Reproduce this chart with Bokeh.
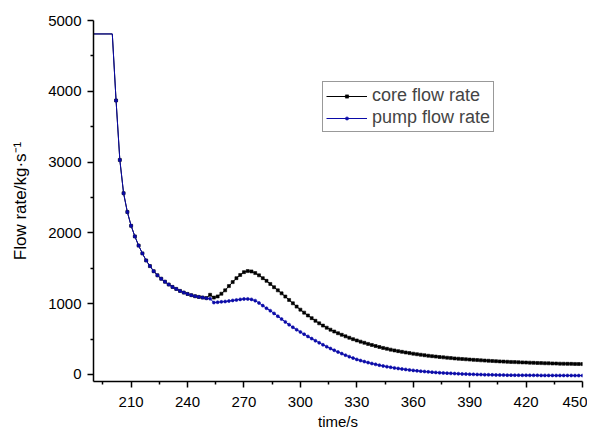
from bokeh.plotting import figure
from bokeh.models import Range1d, FixedTicker, Legend, LegendItem, ColumnDataSource
from bokeh.embed import file_html
from bokeh.resources import INLINE

# ---- data ----
time_s = [190, 200] + list(range(202, 451, 2))

core_flow = [
    4810, 4810,
    3870, 3030, 2560, 2295, 2100, 1950, 1820, 1710, 1610, 1530,
    1458, 1400, 1352, 1310, 1270, 1236, 1208, 1180, 1156, 1137,
    1120, 1105, 1095, 1086, 1078, 1125, 1085, 1102, 1140, 1188,
    1248, 1304, 1360, 1405, 1445, 1460, 1455, 1432, 1400, 1360,
    1322, 1278, 1232, 1188, 1145, 1100, 1052, 1005, 958, 915,
    873, 833, 795, 758, 722, 690, 660, 632, 606, 582,
    560, 538, 518, 498, 480, 463, 447, 431, 416, 401,
    387, 374, 362, 350, 339, 329, 319, 310, 301, 293,
    285, 278, 271, 264, 258, 252, 246, 241, 236, 231,
    226, 222, 218, 214, 210, 206, 203, 199, 196, 193,
    190, 187, 184, 181, 179, 176, 174, 172, 170, 168,
    166, 164, 162, 160, 158, 157, 155, 154, 152, 151,
    150, 149, 148, 147, 146,
]

pump_flow = [
    4810, 4810,
    3870, 3030, 2560, 2295, 2100, 1950, 1820, 1710, 1610, 1530,
    1458, 1400, 1352, 1310, 1270, 1236, 1208, 1180, 1156, 1137,
    1120, 1105, 1095, 1086, 1076, 1070, 1015, 1020, 1025, 1030,
    1037, 1045, 1052, 1060, 1066, 1067, 1060, 1042, 1010, 972,
    935, 900, 862, 822, 782, 742, 703, 666, 632, 600,
    568, 537, 506, 476, 447, 419, 392, 366, 341, 317,
    294, 272, 251, 231, 212, 196, 181, 167, 154, 142,
    131, 120, 110, 101, 92, 84, 77, 70, 63, 57,
    51, 46, 41, 36, 32, 28, 24, 21, 18, 15,
    12, 10, 7, 5, 3, 1, -1, -2, -4, -5,
    -6, -7, -8, -9, -10, -10, -11, -11, -12, -12,
    -13, -13, -13, -14, -14, -14, -14, -15, -15, -15,
    -15, -15, -16, -16, -16,
]

x_ticks = [210, 240, 270, 300, 330, 360, 390, 420, 450]
y_ticks = [0, 1000, 2000, 3000, 4000, 5000]

series_names = ["core flow rate", "pump flow rate"]
series_colors = ["#000000", "#0a0aa8"]

FONT = "Liberation Sans"

p = figure(width=587, height=432, output_backend="svg", toolbar_location=None,
           x_range=Range1d(190, 450), y_range=Range1d(-100, 5000),
           min_border_left=93, min_border_right=5, min_border_top=20,
           min_border_bottom=49)
p.outline_line_color = None
p.xgrid.visible = False
p.ygrid.visible = False
p.background_fill_color = "white"
p.border_fill_color = "white"

items = []
for name, vals, col, marker in zip(series_names, [core_flow, pump_flow], series_colors,
                                   ["square", "circle"]):
    src = ColumnDataSource(dict(t=time_s, v=vals))
    msrc = ColumnDataSource(dict(t=time_s[2:], v=vals[2:]))
    ln = p.line("t", "v", source=src, line_color=col, line_width=1)
    sc = p.scatter("t", "v", source=msrc, marker=marker, size=3,
                   fill_color=col, line_color=col, line_width=0.6)
    items.append(LegendItem(label=name, renderers=[ln, sc]))

legend = Legend(items=items, location=(229, 249), padding=3, spacing=1,
                glyph_width=41, glyph_height=8, label_height=20, label_standoff=5,
                label_text_font=FONT, label_text_font_size="18px",
                border_line_color="#333333", border_line_width=1.5,
                background_fill_alpha=1.0, margin=0)
p.add_layout(legend, "center")

for ax in (p.xaxis[0], p.yaxis[0]):
    ax.axis_line_width = 1.5
    ax.axis_line_color = "black"
    ax.major_tick_line_width = 1.5
    ax.minor_tick_line_width = 1.5
    ax.major_tick_in = 0
    ax.major_tick_out = 6
    ax.minor_tick_in = 0
    ax.minor_tick_out = 3
    ax.major_label_text_font = FONT
    ax.major_label_text_font_size = "15px"
    ax.major_label_text_color = "black"
    ax.axis_label_text_font = FONT
    ax.axis_label_text_font_style = "normal"
    ax.axis_label_text_color = "black"

p.xaxis[0].axis_label_text_font_size = "15px"
p.yaxis[0].axis_label_text_font_size = "17px"
p.xaxis[0].ticker = FixedTicker(ticks=x_ticks, minor_ticks=[195] + [t + 15 for t in x_ticks[:-1]])
p.yaxis[0].ticker = FixedTicker(ticks=y_ticks, minor_ticks=[t + 500 for t in y_ticks[:-1]])
p.xaxis[0].axis_label = "time/s"
p.yaxis[0].axis_label = "Flow rate/kg·s⁻¹"
p.xaxis[0].major_label_standoff = 9
p.xaxis[0].axis_label_standoff = 3
p.yaxis[0].major_label_standoff = 6
p.yaxis[0].axis_label_standoff = 15

open("out.html", "w").write(file_html(p, INLINE))
